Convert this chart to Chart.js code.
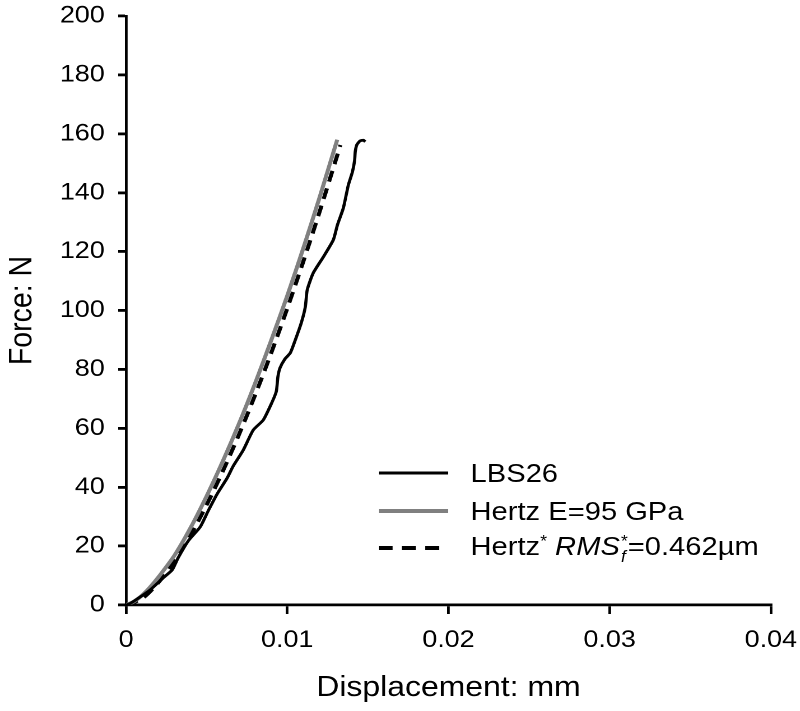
<!DOCTYPE html>
<html>
<head>
<meta charset="utf-8">
<script src="https://cdn.jsdelivr.net/npm/chart.js@4"></script>
<style>
  html, body { margin: 0; padding: 0; background: #fff; overflow: hidden; }
  /* the reference is a bit wider than it is tall, so the whole figure is stretched sideways */
  #wrap { position: absolute; left: 0; top: 0; width: 714px; height: 711px;
          transform: scaleX(1.1204); transform-origin: 0 0; }
  #c { position: absolute; left: 0; top: 0; width: 714px; height: 711px; }
  .leg { position: absolute; left: 338px; height: 26px; display: flex; align-items: center;
         font-family: "Liberation Sans", Arial, sans-serif; font-size: 26px; color: #000; white-space: nowrap; }
  .leg svg { width: 62px; height: 8px; margin-right: 20px; flex: none; }
  .leg sup.st { font-size: 0.6em; vertical-align: 0.5em; line-height: 0; }
  .stack { display: inline-flex; flex-direction: column; vertical-align: middle;
           line-height: 1; font-size: 0.6em; margin-left: 1px; margin-top: 2px; }
</style>
</head>
<body>
<div id="wrap">
  <canvas id="c" width="714" height="711"></canvas>
  <div class="leg" style="top:460px">
    <svg viewBox="0 0 62 8"><line x1="0" y1="4" x2="62" y2="4" stroke="#000" stroke-width="2.8"/></svg>
    <span>LBS26</span>
  </div>
  <div class="leg" style="top:498px">
    <svg viewBox="0 0 62 8"><line x1="0" y1="4" x2="62" y2="4" stroke="#808080" stroke-width="4"/></svg>
    <span>Hertz E=95 GPa</span>
  </div>
  <div class="leg" style="top:535px">
    <svg viewBox="0 0 62 8"><line x1="0" y1="4" x2="62" y2="4" stroke="#000" stroke-width="4" stroke-dasharray="12.5 8.2"/></svg>
    <span>Hertz<sup class="st">*</sup> <i>RMS</i><span class="stack"><span>*</span><i>f</i></span>=0.462µm</span>
  </div>
</div>
<script>
// ejes
var xTicks = [0, 0.01, 0.02, 0.03, 0.04];
var xTickLabels = ['0', '0.01', '0.02', '0.03', '0.04'];
var yTicks = [0, 20, 40, 60, 80, 100, 120, 140, 160, 180, 200];

// LBS26 (medida)
var lbsDisp = [0, 0.00025, 0.00087, 0.00149, 0.0023, 0.00286, 0.00323, 0.00385, 0.0046, 0.00509,
  0.00565, 0.00627, 0.00665, 0.00727, 0.00789, 0.00851, 0.00901, 0.00932, 0.00942, 0.00955,
  0.00985, 0.01019, 0.0105, 0.01087, 0.01112, 0.01124, 0.01161, 0.01224, 0.01286, 0.01311,
  0.01348, 0.01379, 0.01404, 0.01418, 0.01422, 0.01432, 0.01452, 0.01474, 0.01484];
var lbsForce = [0, 0.5, 2.7, 5.1, 9.2, 11.9, 16.0, 21.7, 26.5, 31.9,
  37.7, 43.1, 47.2, 52.6, 59.4, 62.8, 68.3, 72.5, 77.5, 80.5,
  83.5, 85.6, 90.0, 95.8, 101.2, 107.0, 112.7, 118.2, 124.0, 129.0,
  134.8, 142.6, 147.0, 151.0, 154.0, 156.3, 157.6, 157.8, 157.3];

// Hertz E=95 GPa
var hertzDisp = [0, 0.0005, 0.001, 0.0015, 0.002, 0.003, 0.004, 0.005, 0.006, 0.007,
  0.008, 0.009, 0.010, 0.011, 0.012, 0.0131];
var hertzForce = [0, 1.2, 3.3, 6.1, 9.4, 16.8, 26.2, 37.0, 48.8, 61.5,
  75.2, 89.8, 105.0, 121.2, 138.3, 158.0];

// Hertz* con rugosidad
var roughDisp = [0, 0.001, 0.002, 0.003, 0.004, 0.005, 0.006, 0.007, 0.008, 0.009,
  0.010, 0.011, 0.012, 0.0133];
var roughForce = [0, 2.2, 7.6, 14.8, 23.7, 34.0, 45.4, 57.8, 71.2, 85.5,
  100.7, 116.7, 133.4, 156.2];

function pts(xs, ys) {
  return xs.map(function (x, i) { return { x: x, y: ys[i] }; });
}

var fuente = { family: '"Liberation Sans", Arial, sans-serif' };

var ctx = document.getElementById('c').getContext('2d');
var grafico = new Chart(ctx, {
  type: 'line',
  data: {
    datasets: [
      { label: 'LBS26', data: pts(lbsDisp, lbsForce), borderColor: '#000', borderWidth: 2.8, tension: 0.2 },
      { label: 'Hertz E=95 GPa', data: pts(hertzDisp, hertzForce), borderColor: '#808080', borderWidth: 3.6, tension: 0.3 },
      { label: 'Hertz* RMSf*=0.462µm', data: pts(roughDisp, roughForce), borderColor: '#000', borderWidth: 3.6,
        borderDash: [11, 7], tension: 0.3 }
    ]
  },
  options: {
    responsive: false,
    devicePixelRatio: 2,
    animation: false,
    layout: { padding: { left: 0, right: 26, top: 16, bottom: 0 } },
    elements: { point: { radius: 0 } },
    plugins: { legend: { display: false }, tooltip: { enabled: false } },
    scales: {
      x: {
        type: 'linear', min: 0, max: 0.04,
        afterBuildTicks: function (s) { s.ticks = xTicks.map(function (v) { return { value: v }; }); },
        afterFit: function (s) { s.height = 106; s.paddingLeft = 0; s.paddingRight = 0; },
        ticks: {
          color: '#000', padding: 12, maxRotation: 0, font: Object.assign({ size: 24 }, fuente),
          callback: function (v, i) { return xTickLabels[i]; }
        },
        grid: { drawOnChartArea: false, drawTicks: true, tickLength: 9, color: '#000', lineWidth: 2.4 },
        border: { color: '#000', width: 2.8 },
        title: { display: true, text: 'Displacement: mm', color: '#000',
          font: Object.assign({ size: 28.5 }, fuente), padding: { top: 0, bottom: 6 } }
      },
      y: {
        min: 0, max: 200,
        afterBuildTicks: function (s) { s.ticks = yTicks.map(function (v) { return { value: v }; }); },
        afterFit: function (s) { s.width = 112.5; s.paddingTop = 0; s.paddingBottom = 0; },
        ticks: { color: '#000', padding: 12, font: Object.assign({ size: 24 }, fuente) },
        grid: { drawOnChartArea: false, drawTicks: true, tickLength: 7, color: '#000', lineWidth: 2.8 },
        border: { color: '#000', width: 2.4 },
        title: { display: true, text: 'Force: N', color: '#000',
          font: Object.assign({ size: 28.5 }, fuente), padding: { top: 3, bottom: 0 } }
      }
    }
  }
});
</script>
</body>
</html>
